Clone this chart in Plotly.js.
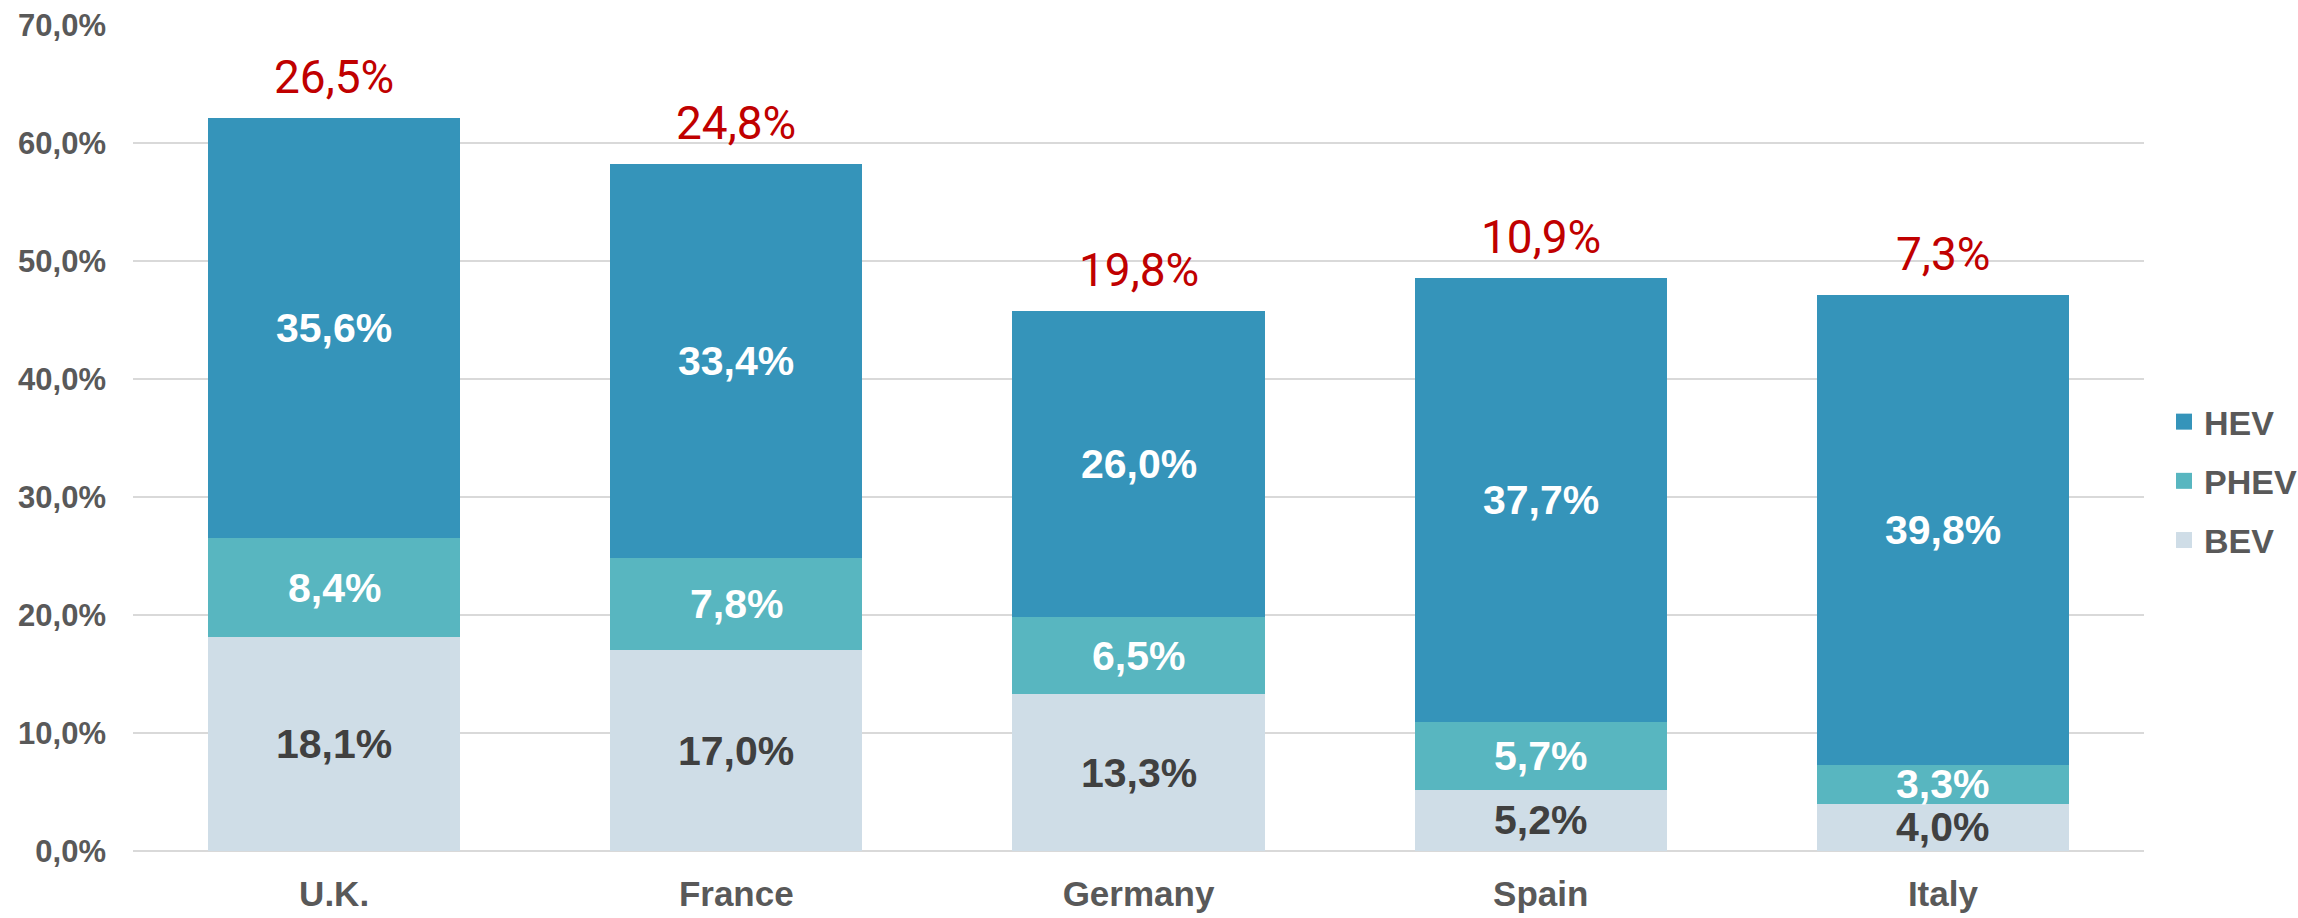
<!DOCTYPE html>
<html>
<head>
<meta charset="utf-8">
<script src="https://cdn.plot.ly/plotly-3.0.1.min.js"></script>
<style>html,body{margin:0;padding:0;background:#fff;}#chart{width:2298px;height:918px;}</style>
</head>
<body>
<div id="chart"></div>
<script>
var countries = ["U.K.", "France", "Germany", "Spain", "Italy"];
var bev  = [18.1, 17.0, 13.3, 5.2, 4.0];
var phev = [8.4, 7.8, 6.5, 5.7, 3.3];
var hev  = [35.6, 33.4, 26.0, 37.7, 39.8];
var plugIn = [26.5, 24.8, 19.8, 10.9, 7.3];
var yTicks = [0, 10, 20, 30, 40, 50, 60, 70];

var cHEV = "#3594BA", cPHEV = "#58B6C0", cBEV = "#CFDDE7";
var boldFont = "Liberation Sans, Arial, sans-serif";
var redFont = "Roboto, Liberation Sans, sans-serif";

function fmt(v){ return v.toFixed(1).replace(".", ",") + "%"; }

var traces = [
  {type:"bar", name:"BEV", x:countries, y:bev, marker:{color:cBEV}, showlegend:false, hoverinfo:"none"},
  {type:"bar", name:"PHEV", x:countries, y:phev, marker:{color:cPHEV}, showlegend:false, hoverinfo:"none"},
  {type:"bar", name:"HEV", x:countries, y:hev, marker:{color:cHEV}, showlegend:false, hoverinfo:"none"},
  {type:"scatter", mode:"markers", name:"HEV", x:[null], y:[null], legendgroup:"a", marker:{symbol:"square", size:20, color:cHEV}},
  {type:"scatter", mode:"markers", name:"PHEV", x:[null], y:[null], legendgroup:"b", marker:{symbol:"square", size:20, color:cPHEV}},
  {type:"scatter", mode:"markers", name:"BEV", x:[null], y:[null], legendgroup:"c", marker:{symbol:"square", size:20, color:cBEV}}
];

var annotations = [];
for (var i = 0; i < countries.length; i++) {
  var total = bev[i] + phev[i] + hev[i];
  annotations.push({x:countries[i], y:bev[i]/2, text:fmt(bev[i]), showarrow:false, yanchor:"middle",
    font:{family:boldFont, size:41, color:"#404040", weight:"bold"}});
  annotations.push({x:countries[i], y:bev[i] + phev[i]/2, text:fmt(phev[i]), showarrow:false, yanchor:"middle",
    font:{family:boldFont, size:41, color:"#FFFFFF", weight:"bold"}});
  annotations.push({x:countries[i], y:bev[i] + phev[i] + hev[i]/2, text:fmt(hev[i]), showarrow:false, yanchor:"middle",
    font:{family:boldFont, size:41, color:"#FFFFFF", weight:"bold"}});
  annotations.push({x:countries[i], y:total, text:fmt(plugIn[i]), showarrow:false, yanchor:"middle", yshift:41,
    font:{family:redFont, size:46, color:"#C00000"}});
}

var layout = {
  width:2298, height:918,
  margin:{l:133, r:154, t:25, b:67, autoexpand:false},
  paper_bgcolor:"#fff", plot_bgcolor:"#fff",
  barmode:"stack", bargap:0.373,
  showlegend:true,
  legend:{xref:"container", x:0.9417, xanchor:"left", yref:"container", y:0.476, yanchor:"middle",
    traceorder:"grouped", tracegroupgap:12, itemsizing:"trace",
    font:{family:boldFont, size:34, color:"#595959", weight:"bold"}},
  xaxis:{type:"category", showgrid:false, zeroline:false, showline:false, ticks:"",
    tickfont:{family:boldFont, size:35, color:"#595959", weight:"bold"}, ticklabelstandoff:19},
  yaxis:{range:[0,70], tickmode:"array", tickvals:yTicks, ticktext:yTicks.map(fmt), showgrid:true, gridcolor:"#D9D9D9", gridwidth:2,
    zeroline:true, zerolinecolor:"#D9D9D9", zerolinewidth:2, showline:false, ticks:"",
    tickfont:{family:boldFont, size:31, color:"#595959", weight:"bold"}, ticklabelstandoff:26},
  annotations:annotations
};

Plotly.newPlot("chart", traces, layout, {displayModeBar:false, staticPlot:true});
</script>
</body>
</html>
